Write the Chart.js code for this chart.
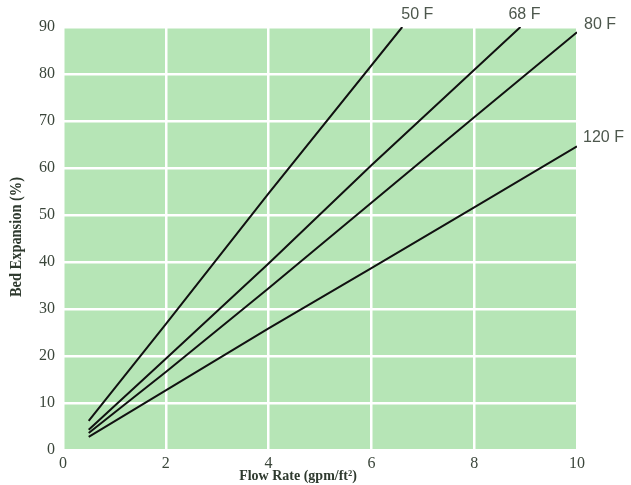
<!DOCTYPE html>
<html>
<head>
<meta charset="utf-8">
<script src="https://cdn.jsdelivr.net/npm/chart.js@4.4.0/dist/chart.umd.min.js"></script>
<style>
html,body{margin:0;padding:0;background:#fff;}
#wrap{width:631px;height:485px;}
</style>
</head>
<body>
<div id="wrap"><canvas id="c" width="631" height="485"></canvas></div>
<script>
// Data
const seriesLabels = ["50 F", "68 F", "80 F", "120 F"];
const flow50  = [0.5, 2, 4, 6.6];
const exp50   = [6.2, 26.8, 54.6, 90];
const flow68  = [0.5, 2, 4, 6, 8.9];
const exp68   = [4.3, 19.4, 39.7, 60.6, 90];
const flow80  = [0.5, 2, 4, 6, 8, 10];
const exp80   = [3.6, 16.6, 34.4, 52.6, 70.8, 88.9];
const flow120 = [0.5, 2, 4, 6, 8, 10];
const exp120  = [2.8, 12.7, 25.9, 38.7, 51.6, 64.6];
const xTicks = [0, 2, 4, 6, 8, 10];
const yTicks = [0, 10, 20, 30, 40, 50, 60, 70, 80, 90];

const xs = [flow50, flow68, flow80, flow120];
const ys = [exp50, exp68, exp80, exp120];

// label placement offsets (px) relative to each line's last point
const labelOffsets = [[-1, -12], [-12, -12], [7, -8], [6, -9]];

const datasets = seriesLabels.map((name, i) => ({
  label: name,
  data: xs[i].map((x, j) => ({x: x, y: ys[i][j]})),
  showLine: true,
  borderColor: '#111',
  borderWidth: 2,
  pointRadius: 0,
  tension: 0,
  fill: false
}));

const bgPlugin = {
  id: 'bg',
  beforeDraw(chart) {
    const {ctx, chartArea: a} = chart;
    ctx.save();
    ctx.fillStyle = '#b6e5b6';
    ctx.fillRect(a.left, a.top, a.right - a.left, a.bottom - a.top);
    ctx.restore();
  }
};

const textPlugin = {
  id: 'texts',
  afterDatasetsDraw(chart) {
    const {ctx} = chart;
    ctx.save();
    ctx.font = '16px "Liberation Sans", Arial, sans-serif';
    ctx.fillStyle = '#4d574d';
    ctx.textAlign = 'left';
    ctx.textBaseline = 'middle';
    chart.data.datasets.forEach((ds, i) => {
      const meta = chart.getDatasetMeta(i);
      const last = meta.data[meta.data.length - 1];
      ctx.fillText(ds.label, last.x + labelOffsets[i][0], last.y + labelOffsets[i][1]);
    });
    // axis titles
    ctx.fillStyle = '#2f3a2f';
    ctx.font = 'bold 14px "Liberation Serif", "Times New Roman", serif';
    ctx.textAlign = 'center';
    ctx.fillText('Flow Rate (gpm/ft\u00B2)', 298, 476);
    ctx.translate(17, 237);
    ctx.rotate(-Math.PI / 2);
    ctx.font = 'bold 16px "Liberation Serif", "Times New Roman", serif';
    ctx.save();
    ctx.scale(0.9, 1);
    ctx.fillText('Bed Expansion (%)', 0, 0);
    ctx.restore();
    ctx.restore();
  }
};

new Chart(document.getElementById('c'), {
  type: 'scatter',
  data: { datasets },
  options: {
    responsive: false,
    animation: false,
    layout: { padding: { top: 27, right: 54, left: 0, bottom: 0 } },
    plugins: { legend: { display: false }, tooltip: { enabled: false } },
    scales: {
      x: {
        type: 'linear', min: 0, max: 10,
        afterBuildTicks(s) { s.ticks = xTicks.map(v => ({value: v})); },
        afterFit(s) { s.height = 35; },
        grid: { color: '#ffffff', lineWidth: 2.5, drawTicks: false },
        border: { display: false },
        ticks: { padding: 4, color: '#3a453a', font: { family: '"Liberation Serif", "Times New Roman", serif', size: 16 } }
      },
      y: {
        type: 'linear', min: 0, max: 90,
        afterBuildTicks(s) { s.ticks = yTicks.map(v => ({value: v})); },
        afterFit(s) { s.width = 63; },
        grid: { color: '#ffffff', lineWidth: 2.5, drawTicks: false },
        border: { display: false },
        ticks: { padding: 8, color: '#3a453a', font: { family: '"Liberation Serif", "Times New Roman", serif', size: 16 } }
      }
    }
  },
  plugins: [bgPlugin, textPlugin]
});
</script>
</body>
</html>
